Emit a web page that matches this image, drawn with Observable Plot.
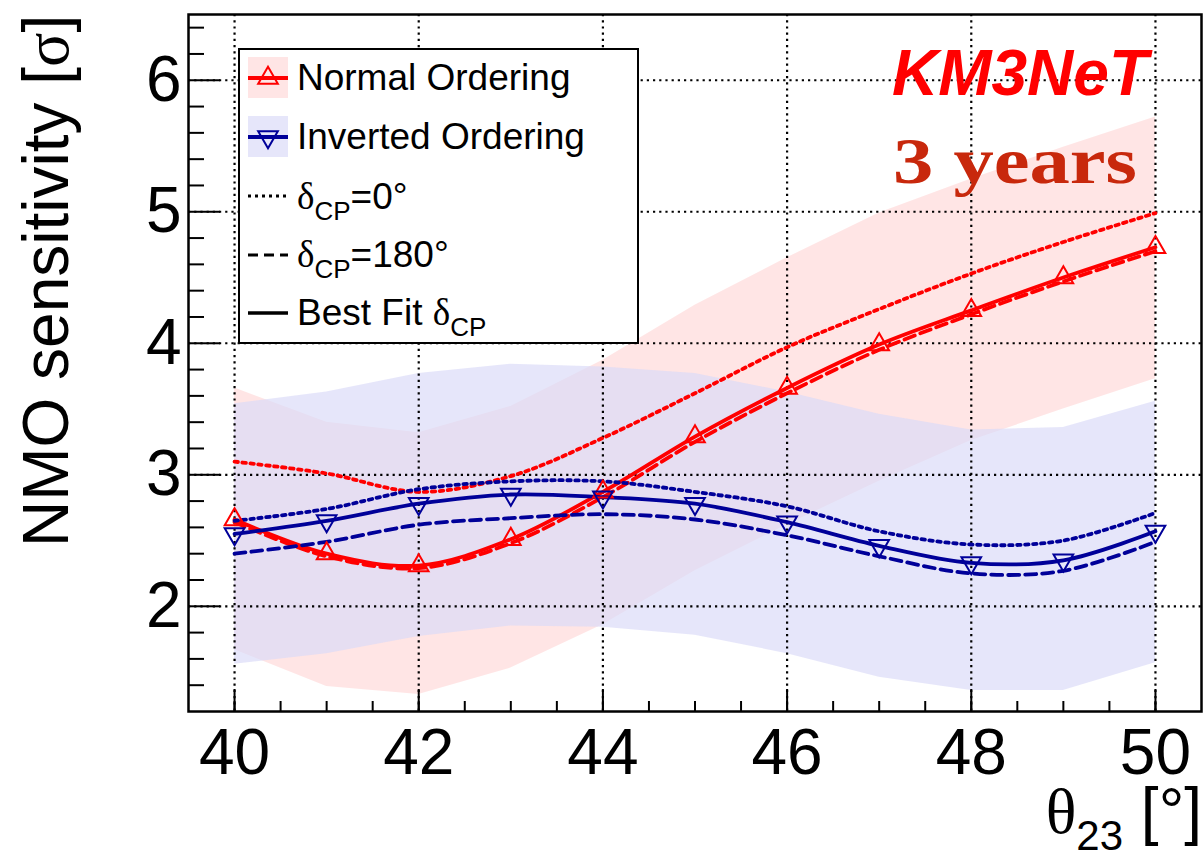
<!DOCTYPE html>
<html>
<head>
<meta charset="utf-8">
<script src="https://cdn.jsdelivr.net/npm/d3@7"></script>
<script src="https://cdn.jsdelivr.net/npm/@observablehq/plot@0.6"></script>
<style>
  html, body { margin: 0; padding: 0; background: white; }
</style>
</head>
<body>
<div id="chart"></div>
<script>
// ---- data ----
const theta = [40, 41, 42, 43, 44, 45, 46, 47, 48, 49, 50];

// Normal Ordering
const noBest = [2.66, 2.40, 2.31, 2.51, 2.87, 3.29, 3.66, 3.99, 4.25, 4.50, 4.73];
const noD0   = [3.10, 3.01, 2.87, 2.99, 3.28, 3.62, 3.97, 4.26, 4.53, 4.77, 4.99];
const noD180 = [2.64, 2.38, 2.29, 2.48, 2.83, 3.25, 3.62, 3.95, 4.22, 4.47, 4.70];
const noHi   = [3.66, 3.40, 3.32, 3.52, 3.87, 4.29, 4.65, 4.99, 5.25, 5.49, 5.72];
const noLo   = [1.67, 1.39, 1.33, 1.53, 1.86, 2.27, 2.62, 2.95, 3.26, 3.50, 3.73];

// Inverted Ordering
const ioBest = [2.55, 2.65, 2.78, 2.85, 2.83, 2.78, 2.64, 2.46, 2.33, 2.35, 2.57];
const ioD0   = [2.65, 2.74, 2.89, 2.95, 2.95, 2.87, 2.76, 2.57, 2.47, 2.50, 2.71];
const ioD180 = [2.40, 2.49, 2.62, 2.67, 2.70, 2.66, 2.54, 2.38, 2.25, 2.27, 2.49];
const ioHi   = [3.54, 3.63, 3.77, 3.84, 3.82, 3.77, 3.63, 3.46, 3.34, 3.36, 3.56];
const ioLo   = [1.56, 1.64, 1.77, 1.85, 1.84, 1.78, 1.64, 1.46, 1.36, 1.36, 1.57];

// ticks
const xTicks = [40, 42, 44, 46, 48, 50];
const xMinor = [40, 40.5, 41, 41.5, 42, 42.5, 43, 43.5, 44, 44.5, 45, 45.5, 46, 46.5, 47, 47.5, 48, 48.5, 49, 49.5, 50];
const yTicks = [2, 3, 4, 5, 6];
const yMinor = [1.4, 1.6, 1.8, 2.2, 2.4, 2.6, 2.8, 3.2, 3.4, 3.6, 3.8, 4.2, 4.4, 4.6, 4.8, 5.2, 5.4, 5.6, 5.8, 6.2, 6.4];

// ---- build table ----
const rows = theta.map((t, i) => ({
  theta: t,
  noBest: noBest[i], noD0: noD0[i], noD180: noD180[i], noHi: noHi[i], noLo: noLo[i],
  ioBest: ioBest[i], ioD0: ioD0[i], ioD180: ioD180[i], ioHi: ioHi[i], ioLo: ioLo[i]
}));

const W = 1204, H = 857;
const mL = 188, mR = 3, mT = 14, mB = 146;
const frameW = W - mL - mR, frameH = H - mT - mB;

const RED = "#ff0000";
const BLUE = "#000099";
const NOFILL = "#ff0000", NOOP = 0.1;
const IOFILL = "rgb(218,218,248)", IOOP = 0.68;
const TRI_R = 7.3;
const LW = 3.8;
const DOT = "3.5,4.5";
const DASH = "11,6";

const svg = Plot.plot({
  width: W, height: H,
  marginLeft: mL, marginRight: mR, marginTop: mT, marginBottom: mB,
  x: {domain: [39.5, 50.5], label: null},
  y: {domain: [1.2, 6.5], label: null},
  style: {fontFamily: "'Liberation Sans', Arial, Helvetica, sans-serif", background: "white", color: "black"},
  marks: [
    // bands
    Plot.areaY(rows, {x: "theta", y1: "noLo", y2: "noHi", fill: NOFILL, fillOpacity: NOOP}),
    Plot.areaY(rows, {x: "theta", y1: "ioLo", y2: "ioHi", fill: IOFILL, fillOpacity: IOOP}),
    // grid
    Plot.ruleX(xTicks, {stroke: "black", strokeWidth: 2.2, strokeDasharray: "2.2,4"}),
    Plot.ruleY(yTicks, {stroke: "black", strokeWidth: 2.2, strokeDasharray: "2.2,4"}),
    // NO curves
    Plot.line(rows, {x: "theta", y: "noD0", stroke: RED, strokeWidth: LW, strokeDasharray: DOT, curve: "catmull-rom"}),
    Plot.line(rows, {x: "theta", y: "noD180", stroke: RED, strokeWidth: LW, strokeDasharray: DASH, curve: "catmull-rom"}),
    Plot.line(rows, {x: "theta", y: "noBest", stroke: RED, strokeWidth: LW, curve: "catmull-rom"}),
    // IO curves
    Plot.line(rows, {x: "theta", y: "ioD0", stroke: BLUE, strokeWidth: LW, strokeDasharray: DOT, curve: "catmull-rom"}),
    Plot.line(rows, {x: "theta", y: "ioD180", stroke: BLUE, strokeWidth: LW, strokeDasharray: DASH, curve: "catmull-rom"}),
    Plot.line(rows, {x: "theta", y: "ioBest", stroke: BLUE, strokeWidth: LW, curve: "catmull-rom"}),
    // markers
    Plot.dot(rows, {x: "theta", y: "noBest", symbol: "triangle", r: TRI_R, stroke: RED, strokeWidth: 2, fill: "none"}),
    Plot.dot(rows, {x: "theta", y: "ioBest", symbol: "triangle", rotate: 180, r: TRI_R, stroke: BLUE, strokeWidth: 2, fill: "none"}),
    // inward ticks
    Plot.ruleX(xTicks, {stroke: "black", strokeWidth: 2, insetTop: frameH - 22}),
    Plot.ruleX(xMinor, {stroke: "black", strokeWidth: 2, insetTop: frameH - 10}),
    Plot.ruleY(yTicks, {stroke: "black", strokeWidth: 2, insetRight: frameW - 32}),
    Plot.ruleY(yMinor, {stroke: "black", strokeWidth: 2, insetRight: frameW - 16}),
    Plot.frame({stroke: "black", strokeWidth: 2.5}),
    // tick labels
    Plot.axisX(xTicks, {tickSize: 0, tickPadding: 17, fontSize: 64, label: null, tickFormat: d => String(d)}),
    Plot.axisY(yTicks, {tickSize: 0, tickPadding: 7, fontSize: 64, label: null, tickFormat: d => String(d)})
  ]
});

document.getElementById("chart").appendChild(svg);

// ---- annotations, titles and legend ----
const s = d3.select(svg);
const SANS = "'Liberation Sans', Arial, Helvetica, sans-serif";
const SERIF = "'Liberation Serif', 'Times New Roman', serif";

// y title
const yt = s.append("text")
  .attr("transform", "translate(68,547) rotate(-90)")
  .attr("font-family", SANS).attr("font-size", 64).attr("fill", "black")
  .attr("text-anchor", "start");
yt.append("tspan").text("NMO sensitivity [");
yt.append("tspan").attr("font-family", SERIF).text("σ");
yt.append("tspan").text("]");

// x title
const xt = s.append("text")
  .attr("x", 1202).attr("y", 833)
  .attr("font-family", SANS).attr("font-size", 64).attr("fill", "black")
  .attr("text-anchor", "end");
xt.append("tspan").attr("font-family", SERIF).text("θ");
xt.append("tspan").attr("font-size", 42).attr("dy", 17).text("23");
xt.append("tspan").attr("dy", -17).text(" [°]");

// KM3NeT label
s.append("text")
  .attr("x", 1148).attr("y", 95)
  .attr("font-family", SANS).attr("font-size", 64)
  .attr("font-weight", "bold").attr("font-style", "italic")
  .attr("fill", "#ff0000").attr("text-anchor", "end")
  .text("KM3NeT");

s.append("text")
  .attr("x", 893).attr("y", 183)
  .attr("font-family", SERIF).attr("font-size", 66)
  .attr("font-weight", "bold").attr("fill", "#c8280c")
  .attr("text-anchor", "start")
  .attr("textLength", 244).attr("lengthAdjust", "spacingAndGlyphs")
  .text("3 years");

// legend
const lg = s.append("g").attr("text-anchor", "start");
lg.append("rect").attr("x", 239).attr("y", 49).attr("width", 399).attr("height", 294)
  .attr("fill", "white").attr("stroke", "black").attr("stroke-width", 2);

const triArea = Math.PI * TRI_R * TRI_R;
const triPath = d3.symbol(d3.symbolTriangle, triArea)();

function entryText(y, parts) {
  const t = lg.append("text").attr("x", 297).attr("y", y)
    .attr("text-anchor", "start")
    .attr("font-family", SANS).attr("font-size", 37).attr("fill", "black");
  parts.forEach(p => {
    const ts = t.append("tspan").text(p.text);
    if (p.serif) ts.attr("font-family", SERIF);
    if (p.size) ts.attr("font-size", p.size);
    if (p.dy) ts.attr("dy", p.dy);
  });
}

// Normal Ordering
lg.append("rect").attr("x", 248).attr("y", 57).attr("width", 40).attr("height", 41)
  .attr("fill", NOFILL).attr("fill-opacity", NOOP);
lg.append("line").attr("x1", 248).attr("x2", 288).attr("y1", 78).attr("y2", 78)
  .attr("stroke", RED).attr("stroke-width", LW);
lg.append("path").attr("d", triPath).attr("transform", "translate(268,78)")
  .attr("fill", "none").attr("stroke", RED).attr("stroke-width", 2);
entryText(90, [{text: "Normal Ordering"}]);

// Inverted Ordering
lg.append("rect").attr("x", 248).attr("y", 116).attr("width", 40).attr("height", 41)
  .attr("fill", IOFILL).attr("fill-opacity", IOOP);
lg.append("line").attr("x1", 248).attr("x2", 288).attr("y1", 137).attr("y2", 137)
  .attr("stroke", BLUE).attr("stroke-width", LW);
lg.append("path").attr("d", triPath).attr("transform", "translate(268,137) rotate(180)")
  .attr("fill", "none").attr("stroke", BLUE).attr("stroke-width", 2);
entryText(149, [{text: "Inverted Ordering"}]);

// delta = 0
lg.append("line").attr("x1", 248).attr("x2", 288).attr("y1", 196).attr("y2", 196)
  .attr("stroke", "black").attr("stroke-width", 3).attr("stroke-dasharray", "3,4");
entryText(209, [{text: "δ", serif: true}, {text: "CP", size: 26, dy: 11}, {text: "=0°", dy: -11}]);

// delta = 180
lg.append("line").attr("x1", 248).attr("x2", 288).attr("y1", 255).attr("y2", 255)
  .attr("stroke", "black").attr("stroke-width", 3).attr("stroke-dasharray", "10,6");
entryText(267, [{text: "δ", serif: true}, {text: "CP", size: 26, dy: 11}, {text: "=180°", dy: -11}]);

// best fit
lg.append("line").attr("x1", 248).attr("x2", 288).attr("y1", 313).attr("y2", 313)
  .attr("stroke", "black").attr("stroke-width", 3.5);
entryText(325, [{text: "Best Fit "}, {text: "δ", serif: true}, {text: "CP", size: 26, dy: 11}]);
</script>
</body>
</html>
